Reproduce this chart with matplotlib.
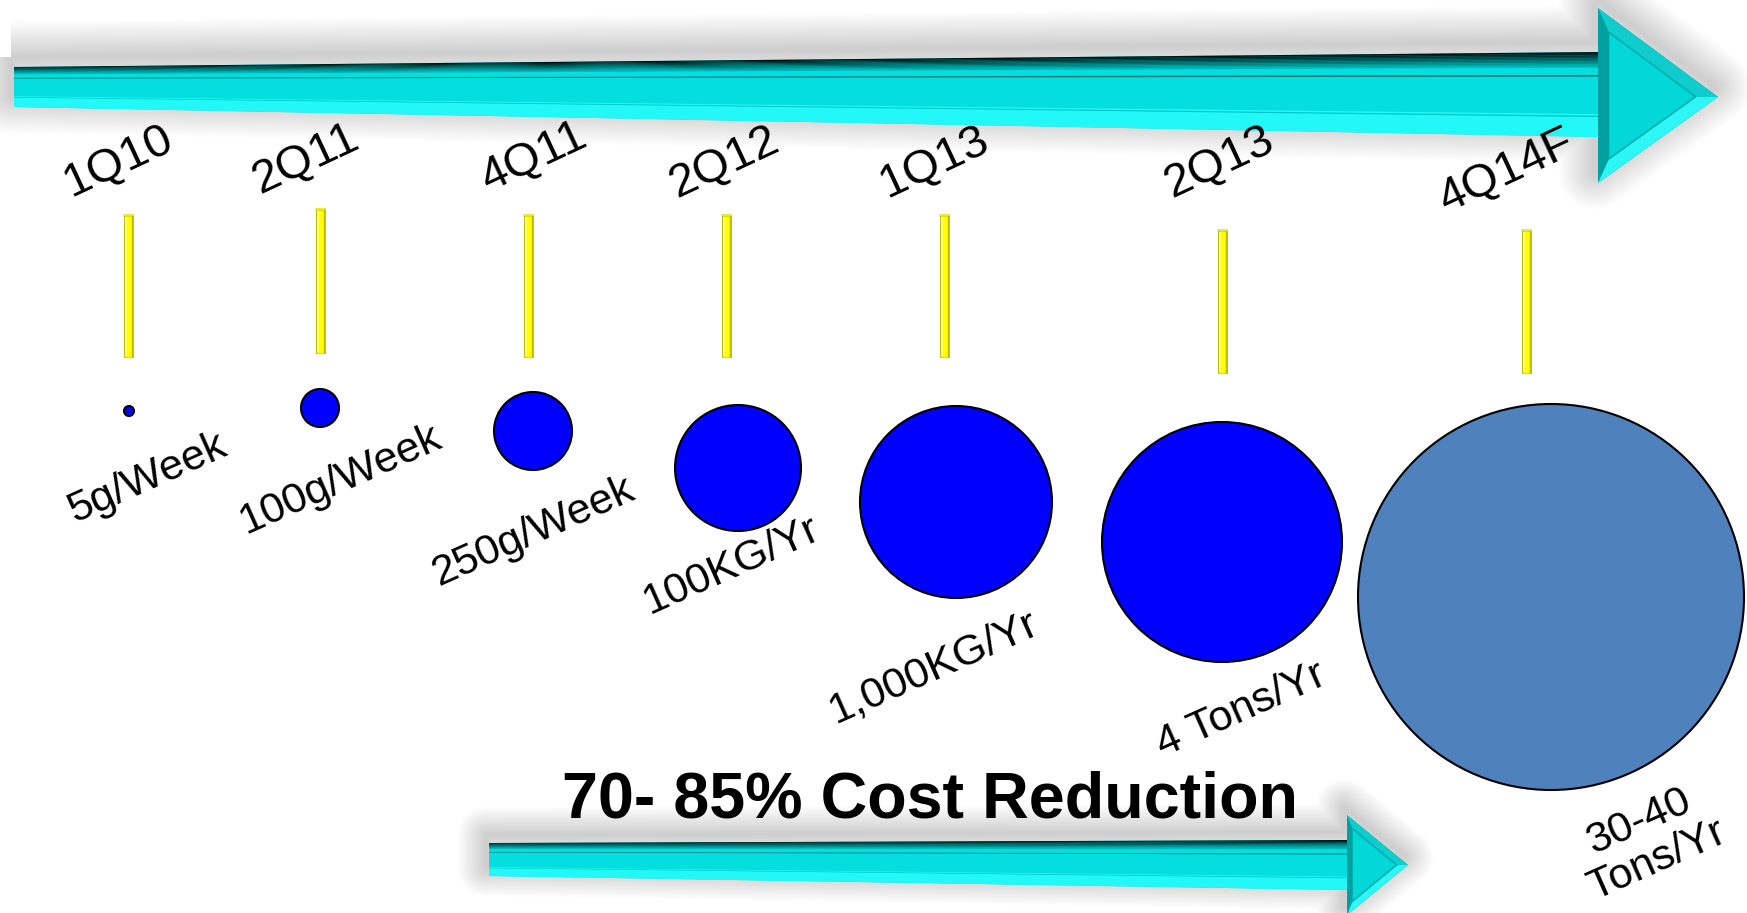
import matplotlib.pyplot as plt
import matplotlib.colors as mcolors
from matplotlib.patches import Polygon, Circle
import numpy as np

plt.rcParams['font.family'] = ['Liberation Sans', 'DejaVu Sans']

# data
quarters = ['1Q10', '2Q11', '4Q11', '2Q12', '1Q13', '2Q13', '4Q14F']
capacity = ['5g/Week', '100g/Week', '250g/Week', '100KG/Yr',
            '1,000KG/Yr', '4 Tons/Yr', '30-40\nTons/Yr']
bubble_size = [5, 19, 39, 63, 96, 120, 193]   # bubble radius in px
is_forecast = [False, False, False, False, False, False, True]
headline = '70- 85% Cost Reduction'

# layout, in pixels of the 1747x913 canvas (y grows downwards)
W, H = 1747, 913
pole_x = [129, 321, 529, 727, 945, 1223, 1527]
pole_top = [215, 209, 215, 215, 215, 230, 230]
pole_bot = [358, 354, 358, 358, 358, 374, 374]
bubble_x = [129, 320, 533, 738, 956, 1222, 1551]
bubble_y = [411, 408, 431, 468, 502, 542, 597]
quarter_xy = [(118, 161), (306, 159), (534, 157), (725, 162),
              (934, 162), (1220, 162), (1507, 171)]
label_xy = [(147, 478), (341, 480), (534, 532), (731, 566),
            (934, 667), (1241, 710), (1648, 841)]

PX = 72 / 100  # points per pixel at dpi 100


def mix(c0, c1, t):
    a = np.array(mcolors.to_rgb(c0))
    b = np.array(mcolors.to_rgb(c1))
    return tuple(a + (b - a) * t)


def draw_arrow(ax, x0, hx, top, bot, head, tip, glow=36, lift=10):
    # top/bot: shaft edge y at left and at head; head: y of head top/bottom
    outline = [(x0, top[0]), (hx, top[1]), (hx, head[0]), tip,
               (hx, head[1]), (hx, bot[1]), (x0, bot[0])]
    shadow = [(x - 3, y - lift) for x, y in outline]
    n = 16
    for k in range(n):
        w = glow * (k + 1) / n
        ax.add_patch(Polygon(shadow, closed=True, facecolor='none',
                             edgecolor='black', alpha=0.013,
                             lw=2 * w * PX, joinstyle='round'))

    def yat(f, side):
        return top[side] + f * (bot[side] - top[side])

    def band(f0, f1, color):
        ax.add_patch(Polygon([(x0, yat(f0, 0)), (hx + 1, yat(f0, 1)),
                              (hx + 1, yat(f1, 1)), (x0, yat(f1, 0))],
                             closed=True, facecolor=color, edgecolor='none'))

    band(0, 1, '#04DEDE')
    m = 10
    for i in range(m):
        band(0.18 * i / m, 0.18 * (i + 1) / m + 0.003,
             mix('#001414', '#00B8B8', i / (m - 1)))
    band(0.27, 0.29, '#007C7C')
    band(0.73, 1.0, '#22F8F8')
    band(0.75, 0.765, '#00C2C2')

    # head with bevels
    outer = [(hx, head[0]), tip, (hx, head[1])]
    ax.add_patch(Polygon(outer, closed=True, facecolor='#00A0A0',
                         edgecolor='none'))
    cx = (2 * hx + tip[0]) / 3
    cy = (head[0] + head[1] + tip[1]) / 3
    inner = [(cx + (px - cx) * 0.72, cy + (py - cy) * 0.72) for px, py in outer]
    ax.add_patch(Polygon([outer[0], outer[1], inner[1], inner[0]], closed=True,
                         facecolor='#10CCCC', edgecolor='none'))
    ax.add_patch(Polygon([outer[2], outer[1], inner[1], inner[2]], closed=True,
                         facecolor='#2EF6F6', edgecolor='none'))
    ax.add_patch(Polygon(inner, closed=True, facecolor='#02D8D8',
                         edgecolor='none'))
    # inner chevron line of the bevel
    ax.plot([inner[0][0], inner[1][0], inner[2][0]],
            [inner[0][1], inner[1][1], inner[2][1]],
            color='#00B0B0', lw=1.2, solid_joinstyle='miter')


fig = plt.figure(figsize=(W / 100, H / 100), dpi=100)
ax = fig.add_axes([0, 0, 1, 1])
ax.set_xlim(0, W)
ax.set_ylim(H, 0)
ax.axis('off')

# arrows
draw_arrow(ax, 14, 1598, (67, 52), (107, 137), (8, 183), (1718, 97))
draw_arrow(ax, 489, 1347, (843, 840), (876, 890), (815, 915), (1408, 865),
           glow=28, lift=8)

# yellow poles
for x, y0, y1 in zip(pole_x, pole_top, pole_bot):
    ax.plot([x, x], [y0, y1], color='#C4BE00', lw=10 * PX,
            solid_capstyle='butt')
    ax.plot([x - 1, x - 1], [y0 + 1, y1 - 1], color='#FFFF00', lw=6.5 * PX,
            solid_capstyle='butt')
    ax.plot([x - 2.5, x - 2.5], [y0 + 2, y1 - 2], color='#FFFFA8', lw=1.5 * PX,
            solid_capstyle='butt')
    ax.plot([x - 4.5, x + 4.5], [y0, y0], color='#E8E450', lw=2 * PX,
            solid_capstyle='round')

# bubbles
for x, y, r, fc in zip(bubble_x, bubble_y, bubble_size, is_forecast):
    ax.add_patch(Circle((x, y), r, facecolor='#4F81BD' if fc else '#0000FF',
                        edgecolor='black', lw=1.5))

# quarter labels
for (x, y), q in zip(quarter_xy, quarters):
    ax.text(x, y, q, fontsize=34, rotation=25, rotation_mode='anchor',
            ha='center', va='center', color='black')

# capacity labels
for (x, y), c in zip(label_xy, capacity):
    ax.text(x, y, c, fontsize=31, rotation=24, rotation_mode='anchor',
            ha='center', va='center', multialignment='center',
            linespacing=1.1, color='black')

ax.text(930, 817, headline, fontsize=46.5, fontweight='bold',
        ha='center', va='baseline', color='black')

fig.savefig('out.png', dpi=100)
